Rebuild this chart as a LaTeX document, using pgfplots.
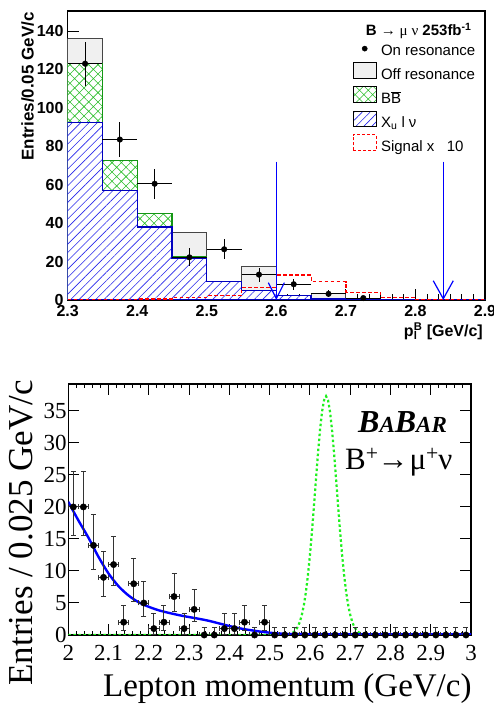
\documentclass[border=0pt]{standalone}
\usepackage{fontspec}
\setmainfont{Liberation Serif}
\newfontfamily\helv{Liberation Sans}
\usepackage{pgfplots}
\pgfplotsset{compat=1.18}
\usetikzlibrary{patterns.meta, arrows.meta}
\definecolor{offgray}{RGB}{240,240,240}
\definecolor{edgegray}{RGB}{70,70,70}
\definecolor{hgreen}{RGB}{40,190,40}
\definecolor{egreen}{RGB}{20,150,20}
\definecolor{hblue}{RGB}{40,40,235}
\definecolor{dblue}{RGB}{0,0,190}
\definecolor{lgreen}{RGB}{30,240,30}
\begin{document}
\begin{tikzpicture}
\useasboundingbox (0pt,0pt) rectangle (494pt,704pt);
% ---------------- top panel ----------------
\begin{axis}[
  at={(67.7pt,404pt)}, anchor=south west, scale only axis,
  width=417.3pt, height=289pt,
  xmin=2.3, xmax=2.9, ymin=0, ymax=150.4,
  xtick={2.3,2.4,2.5,2.6,2.7,2.8,2.9}, ytick={0,20,40,60,80,100,120,140},
  minor x tick num=5, minor y tick num=3,
  xtick pos=left, ytick pos=left, tick align=inside,
  major tick length=11pt, minor tick length=5.5pt,
  axis line style={line width=1.3pt}, tick style={line width=0.9pt, black},
  /pgf/number format/assume math mode=true,
  ticklabel style={font=\helv\bfseries\fontsize{16}{16}\selectfont},
  xticklabel style={inner sep=0pt, yshift=-5pt},
  yticklabel style={inner sep=0pt, xshift=-4pt},
  legend style={at={(rel axis cs:0.682,0.885)}, anchor=north west, draw=none, fill=none,
    inner sep=0pt, row sep=5pt, column sep=3.6pt,
    font=\helv\fontsize{15}{15}\selectfont, nodes={inner sep=0.5pt}},
  legend cell align=left,
]
\addlegendimage{legend image code/.code={\fill[black] (11.7pt,0.5ex) circle (2.6pt);}}
\addlegendentry{On resonance}
\addlegendimage{legend image code/.code={\draw[draw=black, fill=offgray, line width=0.9pt] (0pt,-4pt) rectangle (23.4pt,11.6pt);}}
\addlegendentry{Off resonance}
\addlegendimage{legend image code/.code={\draw[draw=black, line width=0.9pt, preaction={fill=white}, pattern={Hatch[angle=45,distance=6.2pt,line width=0.6pt]}, pattern color=hgreen] (0pt,-4pt) rectangle (23.4pt,11.6pt);}}
\addlegendentry{B$\overline{\hbox{B}}$}
\addlegendimage{legend image code/.code={\draw[draw=black, line width=0.9pt, preaction={fill=white}, pattern={Lines[angle=45,distance=5.6pt,line width=0.6pt]}, pattern color=hblue] (0pt,-4pt) rectangle (23.4pt,11.6pt);}}
\addlegendentry{X\textsubscript{u} l ν}
\addlegendimage{legend image code/.code={\draw[draw=red, line width=1pt, dash pattern=on 3pt off 2pt] (0pt,-4pt) rectangle (23.4pt,11.6pt);}}
\addlegendentry{Signal x\ \ \ 10}
% off resonance (total)
\addplot[const plot, draw=edgegray, fill=offgray, line width=1.1pt, forget plot] coordinates {
 (2.30,136) (2.35,72.8) (2.40,45) (2.45,35) (2.50,9.5) (2.55,17.6) (2.60,2.2) (2.65,3.5)
 (2.70,0.8) (2.75,0.3) (2.80,0.2) (2.85,0.1) (2.90,0.1)} \closedcycle;
% BB
\addplot[const plot, draw=egreen, line width=1.1pt, preaction={fill=white},
  pattern={Hatch[angle=45,distance=6.6pt,line width=0.6pt]}, pattern color=hgreen, forget plot] coordinates {
 (2.30,123.3) (2.35,72.8) (2.40,45) (2.45,22.4) (2.50,9.5) (2.55,4.8) (2.60,2.2) (2.65,0.5)
 (2.70,0.6) (2.75,0.1) (2.80,0.05) (2.85,0) (2.90,0)} \closedcycle;
% Xu l nu
\addplot[const plot, draw=dblue, line width=1.3pt, preaction={fill=white},
  pattern={Lines[angle=45,distance=5.9pt,line width=0.6pt]}, pattern color=hblue, forget plot] coordinates {
 (2.30,92.5) (2.35,57) (2.40,38) (2.45,21.7) (2.50,9.5) (2.55,4.8) (2.60,2.2) (2.65,0.5)
 (2.70,0.6) (2.75,0.1) (2.80,0.05) (2.85,0) (2.90,0)} \closedcycle;
% signal x 10
\addplot[const plot, draw=red, line width=1.2pt, dash pattern=on 3.5pt off 2.5pt, forget plot] coordinates {
 (2.30,0.3) (2.35,0.3) (2.40,0.5) (2.45,1.2) (2.50,2.2) (2.55,6.3) (2.60,13) (2.65,9.5)
 (2.70,4) (2.75,1.4) (2.80,0.4) (2.85,0.15) (2.90,0.15)};
% on resonance data
\addplot[only marks, mark=*, mark size=2.8pt, black, forget plot,
  error bars/.cd, x dir=both, x explicit, y dir=both, y explicit, error mark=none,
  error bar style={line width=0.9pt, black}] coordinates {
 (2.325,123) +- (0.025,11.5)
 (2.375,83.5) +- (0.025,9.1)
 (2.425,60.5) +- (0.025,7.8)
 (2.475,22.2) +- (0.025,4.7)
 (2.525,26.4) +- (0.025,5.1)
 (2.575,13.2) +- (0.025,3.6)
 (2.625,8.2) +- (0.025,2.9)
 (2.675,3.2) +- (0.025,1.8)
 (2.725,1.0) +- (0.025,1.0)};
\draw[blue, line width=1.2pt, -{Straight Barb[length=16pt,width=16pt,line width=1.2pt]}] (axis cs:2.6,72) -- (axis cs:2.6,0);
\draw[blue, line width=1.2pt, -{Straight Barb[length=18pt,width=20pt,line width=1.2pt]}] (axis cs:2.84,72) -- (axis cs:2.84,0);
\end{axis}
\node[anchor=base east, inner sep=0pt, font=\helv\bfseries\fontsize{15}{15}\selectfont] at (471.7pt,668.5pt)
  {B {\normalfont\rmfamily → μ ν} 253fb\textsuperscript{-1}};
\node[rotate=90, anchor=base east, inner sep=0pt, font=\helv\bfseries\fontsize{17}{17}\selectfont] at (33.5pt,692pt) {Entries/0.05 GeV/c};
\node[anchor=base east, inner sep=0pt, font=\helv\bfseries\fontsize{16}{16}\selectfont] at (483pt,367pt) {p\rlap{\textsubscript{l}}\textsuperscript{B} [GeV/c]};
% ---------------- bottom panel ----------------
\begin{axis}[
  at={(68.3pt,69pt)}, anchor=south west, scale only axis,
  width=402.7pt, height=251pt,
  xmin=2, xmax=3, ymin=0, ymax=39.2,
  xtick={2,2.1,2.2,2.3,2.4,2.5,2.6,2.7,2.8,2.9,3}, ytick={0,5,10,15,20,25,30,35},
  minor x tick num=4, tick align=inside,
  major tick length=11pt, minor tick length=4pt,
  axis line style={line width=1.4pt}, tick style={line width=1pt, black},
  /pgf/number format/assume math mode=true,
  ticklabel style={font=\fontsize{23}{23}\selectfont},
  xticklabel style={inner sep=0pt, yshift=-10pt},
  yticklabel style={inner sep=0pt, xshift=-1.5pt},
]
\addplot[lgreen, line width=2.2pt, dash pattern=on 2.5pt off 2.5pt] coordinates {
 (2.00,0) (2.50,0) (2.54,0.04) (2.55,0.14) (2.56,0.46) (2.565,0.79) (2.57,1.29) (2.575,2.06)
 (2.58,3.16) (2.585,4.68) (2.59,6.71) (2.595,9.30) (2.60,12.45) (2.605,16.10) (2.61,20.12)
 (2.615,24.29) (2.62,28.35) (2.625,31.97) (2.63,34.83) (2.635,36.67) (2.64,37.3)
 (2.645,36.67) (2.65,34.83) (2.655,31.97) (2.66,28.35) (2.665,24.29) (2.67,20.12)
 (2.675,16.10) (2.68,12.45) (2.685,9.30) (2.69,6.71) (2.695,4.68) (2.70,3.16) (2.705,2.06)
 (2.71,1.29) (2.715,0.79) (2.72,0.46) (2.73,0.14) (2.74,0.04) (2.78,0) (3.00,0)};
\addplot[blue, line width=2.4pt, smooth] coordinates {
 (2.000,20.8) (2.025,17.9) (2.050,15.2) (2.075,12.2) (2.100,9.6) (2.125,7.6) (2.150,6.15)
 (2.175,5.1) (2.200,4.4) (2.225,3.85) (2.250,3.45) (2.275,3.1) (2.300,2.8) (2.325,2.52)
 (2.350,2.2) (2.375,1.8) (2.400,1.4) (2.425,1.05) (2.450,0.78) (2.475,0.55) (2.500,0.36)
 (2.525,0.22) (2.550,0.15) (2.600,0.12) (2.700,0.1) (2.800,0.1) (2.900,0.1) (3.000,0.1)};
\addplot[only marks, mark=*, mark size=3.2pt, black,
  error bars/.cd, x dir=both, x explicit, y dir=both, y explicit,
  error mark options={rotate=90, mark size=2.5pt, line width=0.8pt},
  error bar style={line width=0.9pt, black!80}]
  table[x=x, y=y, x error=ex, y error plus=ep, y error minus=em] {
x y ex ep em
2.0125 20 0.0125 5.58 4.44
2.0375 20 0.0125 5.58 4.44
2.0625 14 0.0125 4.85 3.72
2.0875 9 0.0125 4.11 2.94
2.1125 11 0.0125 4.43 3.28
2.1375 2 0.0125 2.64 1.29
2.1625 8 0.0125 3.94 2.76
2.1875 5 0.0125 3.38 2.16
2.2125 1 0.0125 2.30 0.83
2.2375 2 0.0125 2.64 1.29
2.2625 6 0.0125 3.58 2.38
2.2875 1 0.0125 2.30 0.83
2.3125 4 0.0125 3.16 1.91
2.3375 0 0.0125 1.15 0
2.3625 0 0.0125 1.15 0
2.3875 1 0.0125 2.30 0.83
2.4125 1 0.0125 2.30 0.83
2.4375 2 0.0125 2.64 1.29
2.4625 0 0.0125 1.15 0
2.4875 2 0.0125 2.64 1.29
2.5125 0 0.0125 1.15 0
2.5375 0 0.0125 1.15 0
2.5625 0 0.0125 1.15 0
2.5875 0 0.0125 1.15 0
2.6125 0 0.0125 1.15 0
2.6375 0 0.0125 1.15 0
2.6625 0 0.0125 1.15 0
2.6875 0 0.0125 1.15 0
2.7125 0 0.0125 1.15 0
2.7375 0 0.0125 1.15 0
2.7625 0 0.0125 1.15 0
2.7875 0 0.0125 1.15 0
2.8125 0 0.0125 1.15 0
2.8375 0 0.0125 1.15 0
2.8625 0 0.0125 1.15 0
2.8875 0 0.0125 1.15 0
2.9125 0 0.0125 1.15 0
2.9375 0 0.0125 1.15 0
2.9625 0 0.0125 1.15 0
2.9875 0 0.0125 1.15 0
};
\end{axis}
\node[anchor=base west, inner sep=0pt, font=\bfseries\itshape] at (358pt,271pt)
  {\fontsize{32}{32}\selectfont B\fontsize{23}{23}\selectfont A\fontsize{32}{32}\selectfont B\fontsize{23}{23}\selectfont AR};
\node[anchor=base west, inner sep=0pt, font=\fontsize{31}{31}\selectfont] at (345pt,234pt)
  {B\textsuperscript{+}\kern-1pt→\kern1pt μ\textsuperscript{+}\kern-0.5ptν};
\node[rotate=90, anchor=base east, inner sep=0pt, font=\fontsize{35}{35}\selectfont] at (32pt,324pt) {Entries / 0.025 GeV/c};
\node[anchor=base east, inner sep=0pt, font=\fontsize{33}{33}\selectfont] at (471.7pt,7pt) {Lepton momentum (GeV/c)};
\end{tikzpicture}
\end{document}
